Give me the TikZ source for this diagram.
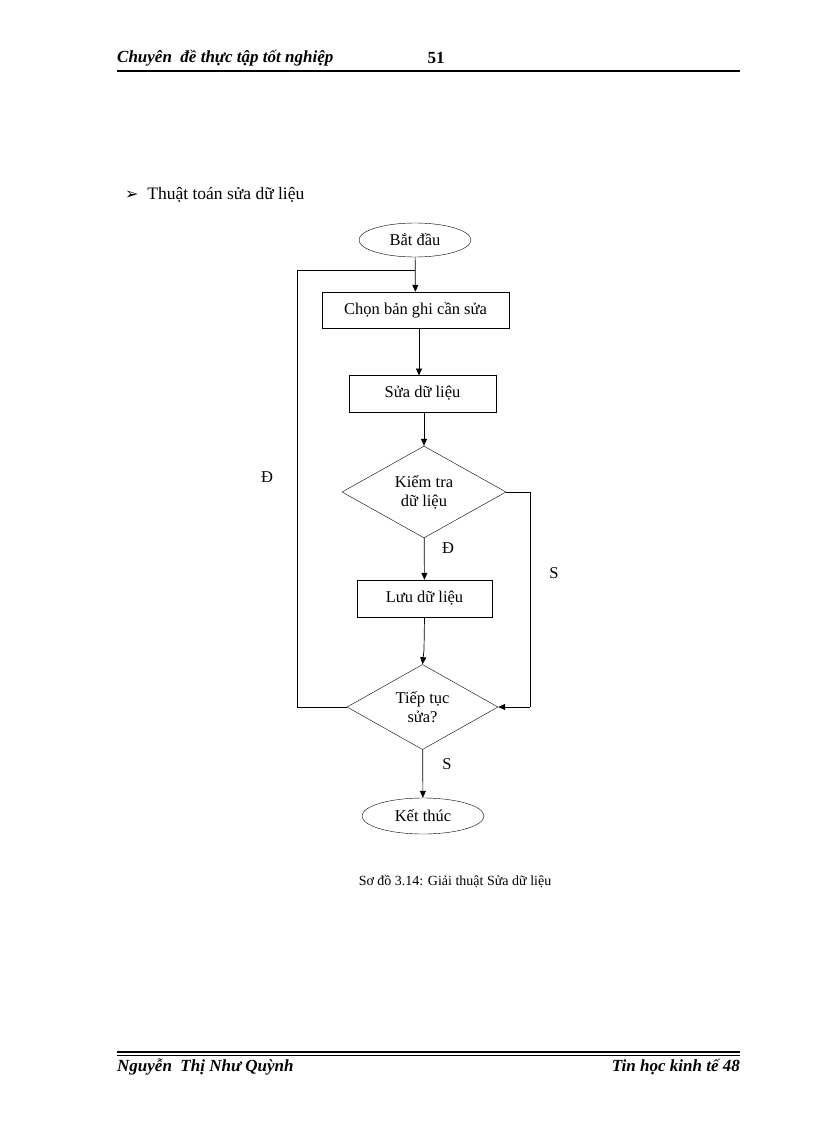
\documentclass[tikz,border=0pt]{standalone}
\usepackage{fontspec}
\setmainfont{Liberation Serif}
\newfontfamily\djv{DejaVu Sans}
\usetikzlibrary{shapes.geometric,arrows.meta}
\begin{document}
\begin{tikzpicture}[x=1pt,y=-1pt,font=\fontsize{16.5}{19}\selectfont,
  box/.style={draw,rectangle,inner sep=0pt},
  ell/.style={draw,ellipse,inner sep=0pt},
  dia/.style={draw,diamond,inner sep=0pt,align=center},
  line/.style={line width=0.7pt},
  arr/.style={line width=0.7pt,-{Triangle[length=7pt,width=6pt]}},
  lab/.style={inner sep=0pt},
  hdr/.style={lab,font=\bfseries\itshape\fontsize{17}{19}\selectfont}]
\useasboundingbox (0,0) rectangle (816,1123);
% header
\node[hdr,anchor=west] (h1) at (117,58) {Chuyên \ đề thực tập tốt nghiệp};
\node[hdr,font=\bfseries\fontsize{17}{19}\selectfont] (h2) at (436,58) {51};
\draw[line width=1.6pt] (117,71) -- (740,71);
% footer
\draw[line width=1.2pt] (117,1052) -- (740,1052);
\draw[line width=0.5pt] (117,1055) -- (740,1055);
\node[hdr,anchor=west] (f1) at (117,1067) {Nguyễn \ Thị Như Quỳnh};
\node[hdr,anchor=east] (f2) at (740,1067) {Tin học kinh tế 48};
% title
\node[lab,anchor=west,font=\fontsize{17.5}{19}\selectfont] (t) at (125,195) {{\djv\fontsize{16}{17}\selectfont ➢}\ \ Thuật toán sửa dữ liệu};
% nodes
\node[ell,minimum width=112,minimum height=34] (s) at (415,240) {Bắt đầu};
\node[box,minimum width=187,minimum height=36] (b1) at (415.5,310) {Chọn bản ghi cần sửa};
\node[box,minimum width=147,minimum height=37] (b2) at (422.5,393.5) {Sửa dữ liệu};
\node[dia,minimum width=164,minimum height=84] (d1) at (424,492) {Kiểm tra\\dữ liệu};
\node[box,minimum width=135,minimum height=37] (b3) at (424.5,598.5) {Lưu dữ liệu};
\node[dia,minimum width=151,minimum height=84] (d2) at (422.5,707) {Tiếp tục\\sửa?};
\node[ell,minimum width=122,minimum height=36] (e) at (423,816) {Kết thúc};
\coordinate (j) at (415,270);
\coordinate (lb) at (297,707);
\coordinate (lt) at (297,270);
\coordinate (rt) at (530,492);
\coordinate (rb) at (530,707);
% connectors
\draw[arr] (s) -- (b1);
\draw[arr] (b1.south -| 419,0) -- (419,375.5);
\draw[arr] (b2.south -| d1.north) -- (d1.north);
\draw[arr] (d1) -- (b3);
\draw[arr] (b3.south) -- (424,650) -- (d2.north);
\draw[arr] (d2) -- (e);
\draw[line] (d2.west) -- (lb) -- (lt) -- (j);
\draw[line] (d1.east) -- (rt) -- (rb);
\draw[arr] (rb) -- (d2.east);
% labels
\node[lab] (l1) at (267,477) {Đ};
\node[lab] (l2) at (448,548) {Đ};
\node[lab] (l3) at (554,573) {S};
\node[lab] (l4) at (447,764) {S};
\node[lab,font=\fontsize{14}{16}\selectfont] (cap) at (455,882) {Sơ đồ 3.14: Giải thuật Sửa dữ liệu};
\end{tikzpicture}
\end{document}
